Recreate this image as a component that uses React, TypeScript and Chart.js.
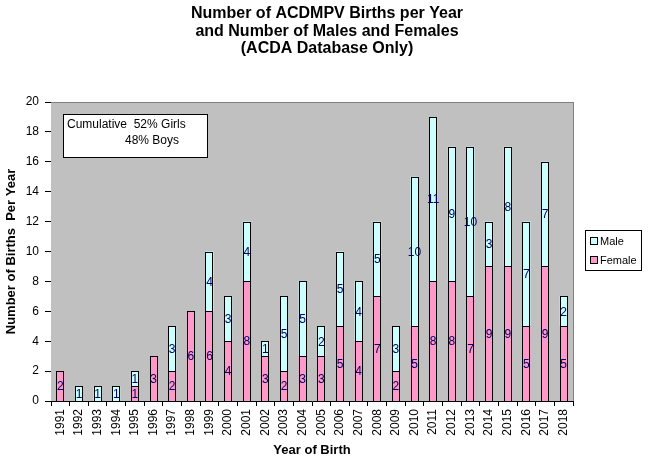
import React, { useEffect, useRef } from "react";
import { Chart, registerables } from "chart.js";

Chart.register(...registerables);

const years = ["1991","1992","1993","1994","1995","1996","1997","1998","1999","2000","2001","2002","2003","2004","2005","2006","2007","2008","2009","2010","2011","2012","2013","2014","2015","2016","2017","2018"];
const female = [2,0,0,0,1,3,2,6,6,4,8,3,2,3,3,5,4,7,2,5,8,8,7,9,9,5,9,5];
const male = [0,1,1,1,1,0,3,0,4,3,4,1,5,5,2,5,4,5,3,10,11,9,10,3,8,7,7,2];
const titleLines = ["Number of ACDMPV Births per Year", "and Number of Males and Females", "(ACDA Database Only)"];
const noteLines = ["Cumulative  52% Girls", "48% Boys"];
const yTicks = [0,2,4,6,8,10,12,14,16,18,20];

const FONT = "'Liberation Sans', Arial, sans-serif";
const FEMALE_COLOR = "#FF99CC";
const MALE_COLOR = "#CCFFFF";

const decorPlugin = {
  id: "decor",
  beforeDatasetsDraw(chart: any) {
    const { ctx, chartArea: a } = chart;
    ctx.save();
    ctx.fillStyle = "#C0C0C0";
    ctx.fillRect(a.left, a.top, a.right - a.left, a.bottom - a.top);
    ctx.fillStyle = "#808080";
    ctx.fillRect(a.left, Math.round(a.top), a.right - a.left + 1, 1);
    ctx.fillRect(Math.round(a.right), a.top, 1, a.bottom - a.top);
    ctx.restore();
  },
  afterDatasetsDraw(chart: any) {
    const { ctx } = chart;
    ctx.save();
    // crisp fills and outlines
    chart.data.datasets.forEach((ds: any, di: number) => {
      const meta = chart.getDatasetMeta(di);
      meta.data.forEach((el: any, i: number) => {
        if (!ds.data[i]) return;
        const l = Math.round(el.x - el.width / 2);
        const r = Math.round(el.x + el.width / 2);
        const t = Math.round(el.y);
        const b = Math.round(el.base);
        ctx.fillStyle = ds.backgroundColor;
        ctx.fillRect(l, t, r - l, b - t);
        ctx.fillStyle = "#000";
        ctx.fillRect(l, t, r - l, 1);
        ctx.fillRect(l, b, r - l, 1);
        ctx.fillRect(l, t, 1, b - t + 1);
        ctx.fillRect(r - 1, t, 1, b - t + 1);
      });
    });
    ctx.font = `12px ${FONT}`;
    ctx.fillStyle = "#000066";
    ctx.textAlign = "center";
    ctx.textBaseline = "middle";
    chart.data.datasets.forEach((ds: any, di: number) => {
      const meta = chart.getDatasetMeta(di);
      meta.data.forEach((el: any, i: number) => {
        const v = ds.data[i];
        if (!v) return;
        const y = (el.y + el.base) / 2;
        ctx.fillText(String(v), el.x, y + 1);
      });
    });
    ctx.restore();
  },
  afterDraw(chart: any) {
    const { ctx } = chart;
    ctx.save();
    // title
    ctx.fillStyle = "#000";
    ctx.font = `bold 16px ${FONT}`;
    ctx.textAlign = "center";
    ctx.textBaseline = "middle";
    titleLines.forEach((t, i) => ctx.fillText(t, 327, 14 + i * 17.5));
    // note box
    ctx.fillStyle = "#fff";
    ctx.fillRect(63.5, 114.5, 144, 43);
    ctx.strokeStyle = "#000";
    ctx.lineWidth = 1;
    ctx.strokeRect(63.5, 114.5, 144, 43);
    ctx.fillStyle = "#000";
    ctx.font = `12px ${FONT}`;
    ctx.textAlign = "left";
    ctx.fillText(noteLines[0], 67, 125);
    ctx.fillText(noteLines[1], 125, 141);
    // legend
    ctx.fillStyle = "#fff";
    ctx.fillRect(585.5, 230.5, 56, 40);
    ctx.strokeRect(585.5, 230.5, 56, 40);
    const items = [
      { label: "Male", color: MALE_COLOR, y: 241 },
      { label: "Female", color: FEMALE_COLOR, y: 260 },
    ];
    ctx.font = `11px ${FONT}`;
    items.forEach((it) => {
      ctx.fillStyle = it.color;
      ctx.fillRect(590.5, it.y - 3.5, 7, 7);
      ctx.strokeStyle = "#000";
      ctx.strokeRect(590.5, it.y - 3.5, 7, 7);
      ctx.fillStyle = "#000";
      ctx.fillText(it.label, 600, it.y + 0.5);
    });
    ctx.restore();
  },
};

export default function App() {
  const ref = useRef<HTMLCanvasElement>(null);
  useEffect(() => {
    document.body.style.margin = "0";
    Chart.defaults.font.family = FONT;
    const chart = new Chart(ref.current!, {
      type: "bar",
      data: {
        labels: years,
        datasets: [
          {
            label: "Female",
            data: female,
            backgroundColor: FEMALE_COLOR,
            borderWidth: 0,
            barPercentage: 0.43,
            categoryPercentage: 1,
          },
          {
            label: "Male",
            data: male,
            backgroundColor: MALE_COLOR,
            borderWidth: 0,
            barPercentage: 0.43,
            categoryPercentage: 1,
          },
        ],
      },
      options: {
        animation: false,
        responsive: false,
        devicePixelRatio: 1,
        layout: { padding: { top: 102, right: 75, left: 0, bottom: 0 } },
        plugins: {
          legend: { display: false },
          tooltip: { enabled: false },
          title: { display: false },
        },
        scales: {
          x: {
            stacked: true,
            offset: true,
            grid: { display: true, drawOnChartArea: false, offset: true, tickLength: 5, color: "#000" },
            border: { color: "#000" },
            ticks: { color: "#000", font: { size: 12 }, minRotation: 90, maxRotation: 90, autoSkip: false, padding: 3 },
            title: { display: true, text: "Year of Birth", color: "#000", font: { size: 13, weight: "bold" } },
            afterFit: (s: any) => { s.height = 61; },
          },
          y: {
            stacked: true,
            min: 0,
            max: 20,
            afterBuildTicks: (s: any) => { s.ticks = yTicks.map((v) => ({ value: v })); },
            grid: { display: true, drawOnChartArea: false, tickLength: 6, color: "#000" },
            border: { color: "#000" },
            ticks: { color: "#000", font: { size: 12 }, padding: 6 },
            title: { display: true, text: "Number of Births  Per Year", color: "#000", font: { size: 13, weight: "bold" } },
            afterFit: (s: any) => { s.width = 51; },
          },
        },
      },
      plugins: [decorPlugin],
    });
    return () => chart.destroy();
  }, []);
  return (
    <div style={{ width: 648, height: 462 }}>
      <canvas ref={ref} width={648} height={462} style={{ display: "block" }} />
    </div>
  );
}
